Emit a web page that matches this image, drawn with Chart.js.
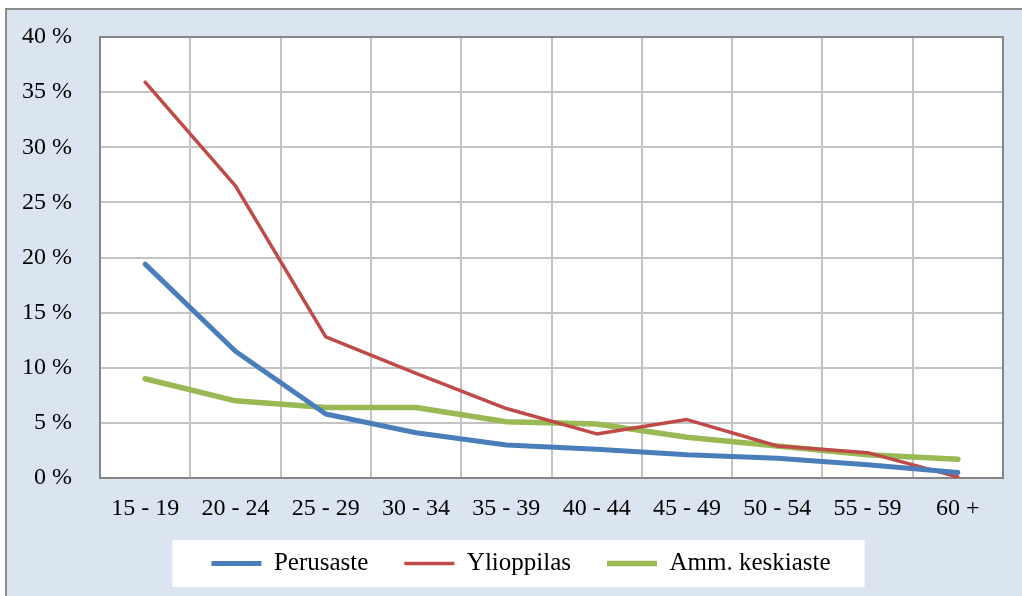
<!DOCTYPE html>
<html>
<head>
<meta charset="utf-8">
<script src="https://cdn.jsdelivr.net/npm/chart.js@4"></script>
<style>
  html, body { margin: 0; padding: 0; background: #ffffff; }
  #frame { position: absolute; left: 5px; top: 8px; width: 1100px; height: 700px; background: #dbe5f1; border: 2px solid #8c8c8c; }
  #wrap { position: absolute; left: 0; top: 0; width: 1022px; height: 596px; }
</style>
</head>
<body>
<div id="frame"></div>
<div id="wrap"><canvas id="c" width="1022" height="596"></canvas></div>
<script>
const categories = ['15 - 19', '20 - 24', '25 - 29', '30 - 34', '35 - 39', '40 - 44', '45 - 49', '50 - 54', '55 - 59', '60 +'];
const perusaste = [19.4, 11.5, 5.8, 4.1, 3.0, 2.6, 2.1, 1.8, 1.2, 0.5];
const ylioppilas = [35.9, 26.5, 12.8, 9.5, 6.3, 4.0, 5.3, 2.9, 2.3, 0.1];
const ammKeskiaste = [9.0, 7.0, 6.4, 6.4, 5.1, 4.9, 3.7, 2.9, 2.1, 1.7];
const seriesNames = ['Perusaste', 'Ylioppilas', 'Amm. keskiaste'];
const yTicks = [0, 5, 10, 15, 20, 25, 30, 35, 40];

const FONT = 'Liberation Serif';
const LEGEND_SHIFT = 39;

const bgPlugin = {
  id: 'bgPlugin',
  afterUpdate(chart) {
    const lg = chart.legend;
    if (lg && lg.legendHitBoxes) {
      lg.left += LEGEND_SHIFT;
      lg.legendHitBoxes.forEach(h => { h.left += LEGEND_SHIFT / 2; });
    }
  },
  beforeDraw(chart) {
    const ctx = chart.ctx;
    const a = chart.chartArea;
    ctx.save();
    ctx.fillStyle = '#ffffff';
    ctx.fillRect(a.left, a.top, a.right - a.left, a.bottom - a.top);
    const lg = chart.legend;
    if (lg && lg.legendHitBoxes && lg.legendHitBoxes.length) {
      const hb = lg.legendHitBoxes;
      let minL = Infinity, maxR = -Infinity, top = hb[0].top;
      hb.forEach(h => { minL = Math.min(minL, h.left); maxR = Math.max(maxR, h.left + h.width); });
      ctx.fillStyle = '#ffffff';
      ctx.fillRect(minL - 39, top - 11, (maxR + 34) - (minL - 39), 47);
    }
    ctx.restore();
  },
  beforeDatasetsDraw(chart) {
    const ctx = chart.ctx;
    const a = chart.chartArea;
    ctx.save();
    ctx.strokeStyle = '#868686';
    ctx.lineWidth = 2;
    ctx.strokeRect(a.left, a.top, a.right - a.left, a.bottom - a.top);
    ctx.restore();
  }
};

new Chart(document.getElementById('c'), {
  type: 'line',
  data: {
    labels: categories,
    datasets: [
      { label: seriesNames[0], data: perusaste, borderColor: '#4a7ebb', backgroundColor: '#4a7ebb', borderWidth: 5 },
      { label: seriesNames[1], data: ylioppilas, borderColor: '#be4b48', backgroundColor: '#be4b48', borderWidth: 3.5 },
      { label: seriesNames[2], data: ammKeskiaste, borderColor: '#98b954', backgroundColor: '#98b954', borderWidth: 5.5 }
    ]
  },
  options: {
    responsive: false,
    animation: false,
    events: [],
    layout: { padding: { left: 0, right: 19, top: 37, bottom: 10 } },
    elements: {
      point: { radius: 0, hoverRadius: 0 },
      line: { tension: 0, borderCapStyle: 'round', borderJoinStyle: 'round' }
    },
    scales: {
      x: {
        offset: true,
        grid: { offset: true, color: '#c3c3c3', lineWidth: 2, drawTicks: false },
        border: { display: false },
        ticks: { color: '#000', font: { family: FONT, size: 24 }, padding: 16, maxRotation: 0, autoSkip: false },
        afterFit(scale) { scale.height = 37; scale.paddingLeft = 0; scale.paddingRight = 0; }
      },
      y: {
        min: 0, max: 40,
        afterBuildTicks(scale) { scale.ticks = yTicks.map(v => ({ value: v })); },
        grid: { color: '#c3c3c3', lineWidth: 2, drawTicks: false },
        border: { display: false },
        ticks: { color: '#000', font: { family: FONT, size: 24 }, padding: 28, callback: v => v + ' %' },
        afterFit(scale) { scale.width = 100; scale.paddingTop = 0; scale.paddingBottom = 0; }
      }
    },
    plugins: {
      legend: {
        position: 'bottom',
        labels: {
          usePointStyle: true,
          pointStyle: 'line',
          pointStyleWidth: 50,
          padding: 36,
          color: '#000',
          font: { family: FONT, size: 25 }
        }
      },
      tooltip: { enabled: false }
    }
  },
  plugins: [bgPlugin]
});
</script>
</body>
</html>
